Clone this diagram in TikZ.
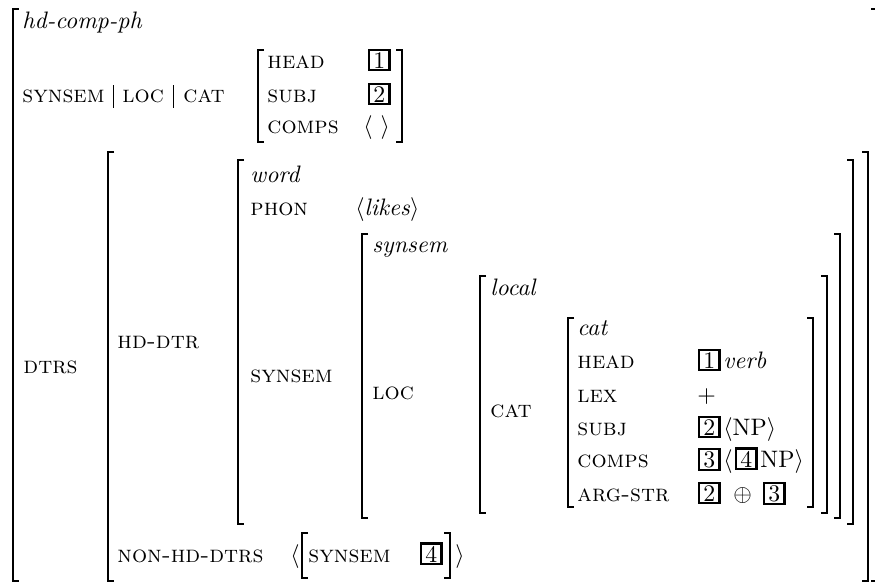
\documentclass[tikz,border=0pt]{standalone}
\usepackage{tikz}
\usetikzlibrary{positioning, calc}

\begin{document}
\begin{tikzpicture}[
  x=0.42pt, y=-0.42pt,
  feat/.style={anchor=base west, inner sep=0pt, font=\scshape},
  typ/.style={anchor=base west, inner sep=0pt, font=\itshape},
  val/.style={anchor=base west, inner sep=0pt},
  tag/.style={draw, line width=0.9pt, anchor=base west, inner sep=1pt,
              minimum width=8.6pt, minimum height=8.6pt},
  brak/.style={line width=0.8pt},
  sep/.style={line width=0.4pt}
]
  \useasboundingbox (0,0) rectangle (875,582);

  % brackets: x / top / bottom
  \foreach \bx/\bt/\bb in {13/9/581, 258/50/142, 108/152/581, 238/160/524,
                           362/234/518, 480/276/513, 568/318/507, 302/533/578}
    \draw[brak] (\bx+6,\bt) -- (\bx,\bt) -- (\bx,\bb) -- (\bx+6,\bb);
  \foreach \bx/\bt/\bb in {877/9/581, 402/50/142, 868/152/581, 853/160/524,
                           840/234/518, 827/276/513, 813/318/507, 450/533/578}
    \draw[brak] (\bx-6,\bt) -- (\bx,\bt) -- (\bx,\bb) -- (\bx-6,\bb);

  % top level
  \node[typ] (phrase) at (22,28) {hd-comp-ph};
  \node[feat] (pss) at (22,102) {synsem};
  \node[feat] (ploc) at (122,102) {loc};
  \node[feat] (pcat) at (183,102) {cat};
  \draw[sep] ($(pss.base east)!0.5!(ploc.base west)$) ++(0,-17) -- ++(0,23);
  \draw[sep] ($(ploc.base east)!0.5!(pcat.base west)$) ++(0,-17) -- ++(0,23);
  \node[feat] (head) at (267,68) {head};
  \node[feat] (subj) at (267,102) {subj};
  \node[feat] (comps) at (267,133) {comps};
  \node[tag] (tagA) at (368,68) {1};
  \node[tag] (tagB) at (368,102) {2};
  \node[val] (empty) at (363,133) {$\langle\ \rangle$};

  % daughters
  \node[feat] (dtrs) at (23,373) {dtrs};
  \node[feat] (hddtr) at (117,348) {hd-dtr};
  \node[typ] (word) at (250,182) {word};
  \node[feat] (phon) at (250,215) {phon};
  \node[val] (likes) at (355,215) {$\langle$\textit{likes}$\rangle$};
  \node[feat] (synsem) at (250,382) {synsem};
  \node[typ] (sstype) at (372,252) {synsem};
  \node[feat] (loc) at (372,399) {loc};
  \node[typ] (local) at (490,295) {local};
  \node[feat] (cat) at (490,417) {cat};

  % cat
  \node[typ] (cattype) at (577,335) {cat};
  \node[feat] (chead) at (577,368) {head};
  \node[feat] (lex) at (577,402) {lex};
  \node[feat] (csubj) at (577,435) {subj};
  \node[feat] (ccomps) at (577,467) {comps};
  \node[feat] (argstr) at (577,501) {arg-str};

  \node[tag] (tagC) at (698,368) {1};
  \node[typ] (verb) at (723,368) {verb};
  \node[val] (plus) at (697,402) {$+$};
  \node[tag] (tagD) at (698,435) {2};
  \node[val] (subjnp) at (723,435) {$\langle$NP$\rangle$};
  \node[tag] (tagE) at (698,467) {3};
  \node[val] (lang) at (723,467) {$\langle$};
  \node[tag] (tagF) at (735,467) {4};
  \node[val] (compnp) at (760,467) {NP$\rangle$};
  \node[tag] (tagG) at (698,501) {2};
  \node[val] (oplus) at (733,501) {$\oplus$};
  \node[tag] (tagH) at (763,501) {3};

  % non-head daughters
  \node[feat] (nonhd) at (117,562) {non-hd-dtrs};
  \node[val] (nlang) at (290,562) {$\langle$};
  \node[feat] (nsynsem) at (308,562) {synsem};
  \node[tag] (tagI) at (420,562) {4};
  \node[val] (nrang) at (455,562) {$\rangle$};
\end{tikzpicture}
\end{document}
